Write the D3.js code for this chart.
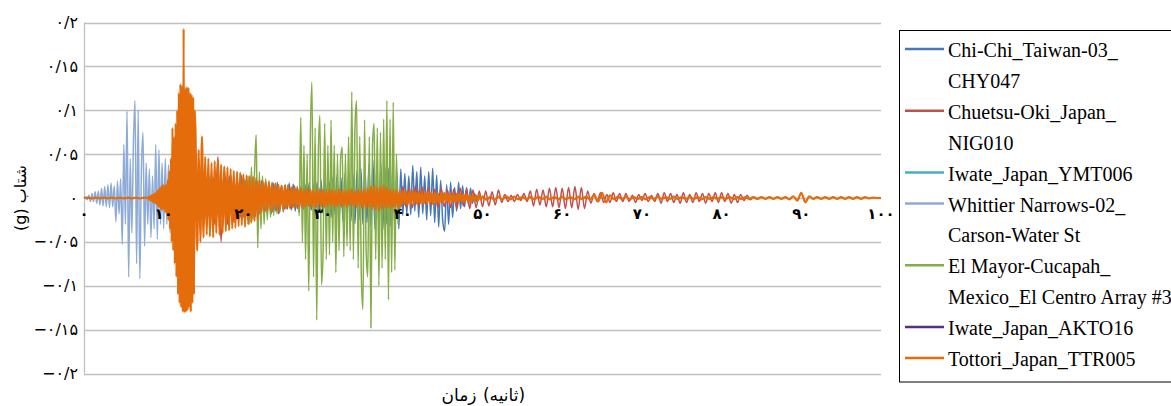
<!DOCTYPE html>
<html><head><meta charset="utf-8">
<script src="https://cdn.jsdelivr.net/npm/d3@7/dist/d3.min.js"></script>
<style>body{margin:0;background:#fff}svg{display:block}</style>
</head><body><svg id="chart" width="1171" height="406"></svg>
<script>
// ---------- axis ticks ----------
const yTickValues = [0.2, 0.15, 0.1, 0.05, 0, -0.05, -0.1, -0.15, -0.2];
const yTickLabels = ["۰/۲", "۰/۱۵", "۰/۱", "۰/۰۵", "۰", "−۰/۰۵", "−۰/۱", "−۰/۱۵", "−۰/۲"];
const xTickValues = [0, 10, 20, 30, 40, 50, 60, 70, 80, 90, 100];
const xTickLabels = ["۰", "۱۰", "۲۰", "۳۰", "۴۰", "۵۰", "۶۰", "۷۰", "۸۰", "۹۰", "۱۰۰"];
const yTitle = "شتاب (g)";
const xTitleWords = ["زمان", "(ثانیه)"];

// ---------- series names / colours ----------
const seriesNames = ["Chi-Chi_Taiwan-03_ CHY047", "Chuetsu-Oki_Japan_ NIG010", "Iwate_Japan_YMT006",
  "Whittier Narrows-02_ Carson-Water St", "El Mayor-Cucapah_ Mexico_El Centro Array #3",
  "Iwate_Japan_AKTO16", "Tottori_Japan_TTR005"];
const legendLines = [["Chi-Chi_Taiwan-03_", "CHY047"], ["Chuetsu-Oki_Japan_", "NIG010"], ["Iwate_Japan_YMT006"],
  ["Whittier Narrows-02_", "Carson-Water St"], ["El Mayor-Cucapah_", "Mexico_El Centro Array #3"],
  ["Iwate_Japan_AKTO16"], ["Tottori_Japan_TTR005"]];
const seriesColors = ["#4677b8", "#c0504d", "#4bacc6", "#8eabd8", "#84ad46", "#55317f", "#e46c0a"];

// ---------- acceleration records (g); start time (s) and sample step (s) ----------
const chiChiStart = 10, chiChiStep = 0.25;
const chiChiAccel = [
  0, .002, -.003, .004, -.005, .006, -.007, .008, -.01, .012, -.011, .014, -.013, .016, -.015, .018,
  -.017, .02, -.018, .022, -.02, .019, -.022, .021, -.019, .023, -.02, .018, -.022, .02, -.018, .024,
  -.021, .025, -.02, .022, -.024, .021, -.019, .026, -.022, .02, -.018, .023, -.02, .018, -.021, .019,
  -.017, .02, -.016, .018, -.019, .016, -.018, .017, -.015, .018, -.017, .014, -.016, .015, -.013, .017,
  -.014, .016, -.015, .013, -.016, .014, -.012, .015, -.013, .017, -.014, .016, -.015, .018, -.016, .02,
  -.018, .022, -.02, .019, -.022, .024, -.019, .026, -.025, .023, -.027, .028, -.024, .03, -.026, .027,
  -.029, .031, -.025, .033, -.03, .035, -.028, .038, -.032, .043, -.035, .036, -.033, .038, -.036, .035,
  -.03, .034, -.032, .036, -.034, .03, -.035, .033, -.02, .028, -.018, .025, -.019, .037, -.015, .03,
  -.022, .035, -.018, .025, -.025, .03, -.02, .034, -.028, .026, -.033, .02, -.025, -.038, .015, -.03,
  .018, -.022, .012, -.015, .018, -.012, .014, -.01, .012, -.008, .011, -.006, .005, -.004, .003, -.002
];

const chuetsuStart = 14, chuetsuStep = 0.4;
const chuetsuAccel = [
  0, .004, -.006, .01, -.012, .02, -.03, .047, -.05, .035, -.03, .025, -.028, .02, -.022,
  .025, -.02, .018, -.022, .02, -.018, .02, -.015, .017, -.016, .015, -.018, .014, -.013, .015,
  -.012, .014, -.012, .011, -.013, .012, -.01, .013, -.011, .01, -.012, .01, -.009, .011, -.01,
  .009, -.011, .01, -.008, .01, -.009, .01, -.011, .009, -.01, .011, -.01, .009, -.012, .01,
  -.011, .012, -.01, .011, -.012, .013, -.01, .012, -.011, .014, -.009, .013, -.006, .012, -.008,
  .01, -.011, .012, -.01, .009, -.011, .01, -.012, .011, -.009, .01, -.012, .009, -.011, .008,
  -.01, .008, -.009, .007, -.008, .009, -.005, .004, -.004, .003, -.004, .004, -.003, .005, -.004,
  .008, -.009, .01, -.008, .009, -.01, .011, -.01, .012, -.011, .011, -.012, .012, -.011, .013,
  -.013, .012, -.012, .008, -.006, .005, -.004, .006, -.005, .004, -.005, .006, -.004, .005, -.004,
  .005, -.004, .003, -.005, .004, -.003, .005, -.004, .003, -.004, .005, -.006, .006, -.004, .005,
  -.005, .004, -.006, .006, -.005, .004, -.005, .006, -.004, .005, -.006, .005, -.004, .006, -.005,
  .006, -.004, .005, -.006, .004, -.005, .004, -.003, .003, -.002, .001, -.001, 0
];

const iwateYmtStart = 12, iwateYmtStep = 0.5;
const iwateYmtAccel = [
  0, .002, -.003, .005, -.006, .007, -.008, .007, -.006, .008, -.007, .006, -.008, .007, -.005,
  .006, -.007, .005, -.006, .005, -.004, .005, -.005, .004, -.004, .003, -.004, .003, -.002, .002,
  -.002, .001, 0
];

const whittierStart = 0, whittierStep = 0.2;
const whittierAccel = [
  0, .001, -.002, .003, -.004, .005, -.004, .007, -.006, .008,
  -.008, .011, -.009, .013, -.01, .015, -.011, .017, -.01, .014,
  -.027, .019, -.018, .022, -.053, .061, -.03, .099, -.09, .045,
  -.04, .062, .111, -.075, .1, -.092, .03, .075, -.055, .04,
  -.03, .033, -.045, .025, -.035, .061, -.047, .055, -.03, .04,
  -.035, .045, -.03, .038, -.04, .035, -.028, .042, -.033, .03,
  -.036, .028, -.03, .035, -.025, .03, -.032, .025, -.028, .022,
  -.025, .028, -.02, .024, -.022, .02, -.024, .022, -.018, .025,
  -.02, .018, -.022, .02, -.017, .019, -.016, .02, -.018, .015,
  -.017, .016, -.014, .018, -.015, .014, -.016, .013, -.012, .015,
  -.013, .012, -.014, .011, -.01, .012, -.01, .011, -.009, .01,
  -.009, .01, -.008, .009, -.008, .008, -.009, .007, -.008, .007,
  -.007, .008, -.006, .007, -.006, .006, -.007, .005, -.006, .005,
  -.005, .006, -.005, .005, -.004, .004, -.005, .004, -.004, .003,
  -.003, .004, -.003, .003, -.003, .002, -.003, .002, -.002, .001
];

const elMayorStart = 18, elMayorStep = 0.2;
const elMayorAccel = [
  0, .002, -.003, .004, -.005, .006, -.007, .008, -.01, .012,
  -.015, .02, -.018, .025, -.03, .035, -.025, .03, .072, -.057,
  .03, -.035, .025, -.03, .022, -.025, .02, -.022, .018, -.02,
  .017, -.018, .015, -.016, .014, -.015, .013, -.012, .014, -.011,
  .012, -.01, .011, -.009, .01, -.02, .092, -.05, .06, -.07,
  .05, -.106, .07, .132, -.09, .08, -.139, .05, .094, -.099,
  -.06, .085, -.07, .06, -.065, .089, -.05, .06, -.085, .05,
  -.06, .045, .058, -.067, .05, -.055, .07, -.06, .121, -.07,
  .08, .111, -.08, .07, -.09, -.127, .089, -.06, -.09, .07,
  -.148, .06, .085, -.07, .08, -.1, .075, -.08, .09, -.07,
  .111, -.116, .09, -.085, .109, -.082, .05, -.03, .01, 0
];

const iwateAktStart = 14, iwateAktStep = 0.5;
const iwateAktAccel = [
  0, .002, -.003, .004, -.005, .006, -.005, .006, -.004, .005, -.006, .005, -.004, .005, -.005,
  .004, -.005, .004, -.003, .004, -.004, .003, -.003, .003, -.002, .002, -.002, .001, 0
];

// Tottori record in four pieces of different sampling
const tottoriPreStart = 0, tottoriPreStep = 0.5;
const tottoriPreAccel = [0, .0005, -.0005, .0005, -.0005, .0005, -.0005, .0005, -.0005, .0005, -.0005, .0005, -.0005, .0005, -.0005, .0005];
const tottoriStrongStart = 8, tottoriStrongStep = 0.1;
const tottoriStrongAccel = [
  0, .001, -.002, .002, -.003, .003, -.004, .004, -.005, .005,
  -.006, .007, -.008, .009, -.01, .011, -.012, .013, -.014, .015,
  -.012, .014, -.016, .015, -.018, .02, -.025, .03, -.035, .045,
  -.05, .08, -.06, .07, -.075, .085, -.09, .1, -.11, .12,
  -.12, .13, -.125, .128, -.13, .193, -.131, .125, -.13, .127,
  -.128, .126, -.125, .12, -.13, .118, -.12, .115, -.11, .1
];
const tottoriCodaStart = 14, tottoriCodaStep = 0.2;
const tottoriCodaAccel = [
  .07, -.06, .055, -.05, .07, -.045, .047, -.042, .045, -.044,
  .04, -.045, .042, -.04, .044, -.042, .038, -.04, .036, -.038,
  .035, -.037, .033, -.035, .031, -.034, .03, -.032, .029, -.031,
  .027, -.033, .026, -.03, .025, -.028, .024, -.026, .023, -.025,
  .02, -.016, .019, -.015, .019, -.014, .018, -.014, .017, -.013,
  .016, -.013, .015, -.012, .014, -.012, .014, -.011, .013, -.011,
  .012, -.011, .012, -.01, .011, -.01, .011, -.011, .01, -.01,
  .01, -.009, .01, -.01, .009, -.01, .009, -.009, .01, -.009,
  .009, -.01, .008, -.009, .01, -.008, .009, -.01, .008, -.009,
  .01, -.008, .009, -.009, .008, -.01, .009, -.008, .01, -.009,
  .008, -.01, .009, -.008, .01, -.011, .01, -.012, .011, -.01,
  .013, -.012, .014, -.013, .012, -.014, .013, -.012, .014, -.011,
  .012, -.011, .01, -.012, .009, -.01, .009, -.011, .008, -.009,
  .008, -.007, .008, -.008, .007, -.007, .008, -.006, .007, -.007,
  .007, -.006, .007, -.007, .006, -.006, .007, -.006, .006, -.007,
  .006, -.006, .005, -.006, .006, -.005, .006, -.005, .005, -.005,
  .005, -.005, .004, -.005, .005, -.004, .005, -.004, .004, -.004,
  .004, -.004, .003, -.004, .003, -.003, .003, -.003, .003, -.002
];
const tottoriTailStart = 50, tottoriTailStep = 0.5;
const tottoriTailAccel = [
  .002, -.002, .0015, -.002, .0015, -.0015, .002, -.0015, .0015, -.0015,
  .0015, -.0015, .001, -.0015, .0015, -.001, .0015, -.0015, .001, -.0015,
  .0015, -.0015, .001, -.0015, .0015, -.001, .0015, -.0015, .003, -.004,
  .006, -.005, .003, -.0015, .0015, -.001, .0015, -.0015, .001, -.001,
  .001, -.0015, .001, -.001, .0015, -.001, .001, -.001, .0015, -.001,
  .001, -.001, .0015, -.001, .001, -.0015, .001, -.001, .001, -.001,
  .001, -.001, .001, -.0015, .001, -.001, .001, -.001, .001, -.001,
  .001, -.001, .001, -.001, .001, -.001, .001, -.0015, .002, -.003,
  .006, -.005, .002, -.001, .001, -.001, .001, -.001, .001, -.001,
  .001, -.001, .001, -.001, .001, -.001, .001, -.0005, .0005, 0, 0
];

// ---------- build records ----------
function samples(start, step, values) {
  return values.map((v, i) => ({ t: start + i * step, a: v }));
}
const records = [
  samples(chiChiStart, chiChiStep, chiChiAccel),
  samples(chuetsuStart, chuetsuStep, chuetsuAccel),
  samples(iwateYmtStart, iwateYmtStep, iwateYmtAccel),
  samples(whittierStart, whittierStep, whittierAccel),
  samples(elMayorStart, elMayorStep, elMayorAccel),
  samples(iwateAktStart, iwateAktStep, iwateAktAccel),
  [].concat(
    samples(tottoriPreStart, tottoriPreStep, tottoriPreAccel),
    samples(tottoriStrongStart, tottoriStrongStep, tottoriStrongAccel),
    samples(tottoriCodaStart, tottoriCodaStep, tottoriCodaAccel),
    samples(tottoriTailStart, tottoriTailStep, tottoriTailAccel))
];

// ---------- drawing ----------
const svg = d3.select("#chart");
const x = d3.scaleLinear().domain([0, 100]).range([84, 881]);
const y = d3.scaleLinear().domain([-0.2, 0.2]).range([373.5, 22.5]);
const grid = "#bfbfbf";
const faFont = "'DejaVu Sans', sans-serif";

// gridlines
svg.append("g").selectAll("line").data(yTickValues).join("line")
  .attr("x1", x(0)).attr("x2", x(100))
  .attr("y1", d => Math.round(y(d)) + 0.5).attr("y2", d => Math.round(y(d)) + 0.5)
  .attr("stroke", grid).attr("stroke-width", 1.3);
// left axis line
svg.append("line").attr("x1", x(0) + 0.5).attr("x2", x(0) + 0.5)
  .attr("y1", y(0.2)).attr("y2", y(-0.2)).attr("stroke", grid).attr("stroke-width", 1.3);

// y tick labels
svg.append("g").selectAll("text").data(yTickValues).join("text")
  .attr("x", 78).attr("y", d => y(d))
  .attr("dy", "0.35em").attr("text-anchor", "end")
  .style("font-family", faFont).style("font-size", "16px").attr("fill", "#000")
  .text((d, i) => yTickLabels[i]);

// series lines
const line = d3.line().x(d => x(d.t)).y(d => y(d.a)).curve(d3.curveMonotoneX);
svg.append("g").selectAll("path").data(records).join("path")
  .attr("d", line).attr("fill", "none")
  .attr("stroke", (d, i) => seriesColors[i])
  .attr("stroke-width", (d, i) => i === 6 ? 2.2 : 1.5)
  .attr("stroke-linejoin", "round");

// x tick labels (drawn on top, Excel-style at the zero line)
svg.append("g").selectAll("text").data(xTickValues).join("text")
  .attr("x", d => x(d)).attr("y", 214)
  .attr("dy", "0.35em").attr("text-anchor", "middle")
  .style("font-family", faFont).style("font-size", "15px").style("font-weight", "bold").attr("fill", "#000")
  .text((d, i) => xTickLabels[i]);

// axis titles
svg.append("text").attr("transform", "translate(20,198) rotate(-90)")
  .attr("text-anchor", "middle").attr("dy", "0.35em")
  .style("direction", "rtl").style("unicode-bidi", "embed")
  .style("font-family", faFont).style("font-size", "16px").text(yTitle);
svg.append("text").attr("x", 459).attr("y", 395).attr("text-anchor", "middle").attr("dy", "0.35em")
  .style("font-family", faFont).style("font-size", "17px").text(xTitleWords[0]);
svg.append("text").attr("x", 504).attr("y", 395).attr("text-anchor", "middle").attr("dy", "0.35em")
  .style("font-family", faFont).style("font-size", "17px").text(xTitleWords[1]);

// legend
const lg = svg.append("g");
lg.append("rect").attr("x", 899.5).attr("y", 30.5).attr("width", 320).attr("height", 351.5)
  .attr("fill", "#fff").attr("stroke", "#000").attr("stroke-width", 1);
const rowH = 30.9;
let row = 0;
legendLines.forEach((lines, i) => {
  const cy = 50 + row * rowH;
  lg.append("line").attr("x1", 905).attr("x2", 944).attr("y1", cy - 1).attr("y2", cy - 1)
    .attr("stroke", seriesColors[i]).attr("stroke-width", 2.5);
  lines.forEach((txt, k) => {
    lg.append("text").attr("x", 948).attr("y", 50 + (row + k) * rowH).attr("dy", "0.35em")
      .style("font-family", "'Liberation Serif', 'Times New Roman', serif").style("font-size", "20px")
      .attr("fill", "#000").text(txt);
  });
  row += lines.length;
});
</script></body></html>
